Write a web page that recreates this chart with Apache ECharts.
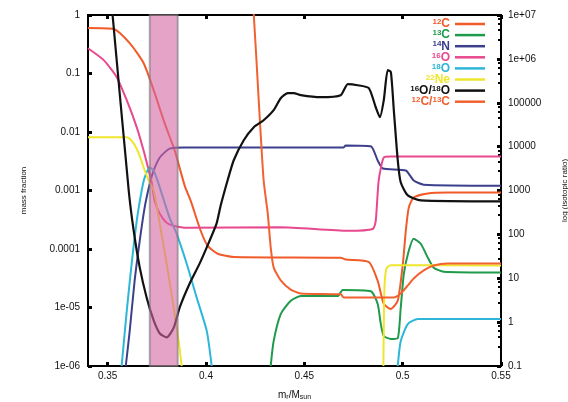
<!DOCTYPE html>
<html>
<head>
<meta charset="utf-8">
<script src="https://cdn.jsdelivr.net/npm/echarts@6/dist/echarts.min.js"></script>
<style>
  html, body { margin: 0; padding: 0; background: #fff; }
  #chart { width: 568px; height: 402px; }
</style>
</head>
<body>
<div id="chart"></div>
<script>
// x ticks + tick labels
const xTicks = [0.35, 0.4, 0.45, 0.5, 0.55];
const xTickLabels = ['0.35', '0.4', '0.45', '0.5', '0.55'];
const leftTickLabels = ['1e-06', '1e-05', '0.0001', '0.001', '0.01', '0.1', '1'];
const rightTickLabels = ['0.1', '1', '10', '100', '1000', '10000', '100000', '1e+06', '1e+07'];

// shaded zone (m/Msun)
const band = [0.3714, 0.3856];

// mass fractions [m/Msun, X]
const c12 = [[0.34, 0.60], [0.353, 0.575], [0.3612, 0.33], [0.3683, 0.15], [0.3734, 0.052], [0.379, 0.014],
  [0.3841, 0.0048], [0.3892, 0.0012], [0.3922, 6.7e-4], [0.3973, 2.05e-4], [0.4009, 1.13e-4], [0.406, 8.3e-5],
  [0.4141, 7.3e-5], [0.4685, 7.1e-5], [0.471, 6.6e-5], [0.4828, 6.0e-5], [0.4873, 2.85e-5], [0.4904, 1.15e-5],
  [0.4939, 9.4e-6], [0.4975, 1.3e-5], [0.5001, 5.6e-5], [0.5016, 2.05e-4], [0.5031, 5.1e-4], [0.5056, 7.6e-4],
  [0.5128, 8.9e-4], [0.5229, 9.2e-4], [0.55, 9.2e-4]];
const c13 = [[0.4329, 1e-6], [0.4344, 2.66e-6], [0.438, 7.7e-6], [0.4431, 1.3e-5], [0.4482, 1.57e-5], [0.467, 1.57e-5],
  [0.4695, 2.0e-5], [0.4838, 1.9e-5], [0.4873, 1.15e-5], [0.4889, 5.2e-6], [0.4904, 3.25e-6], [0.494, 2.9e-6],
  [0.4975, 3.0e-6], [0.499, 9.8e-6], [0.5006, 3.76e-5], [0.5031, 9.3e-5], [0.5056, 1.5e-4], [0.5092, 1.23e-4],
  [0.5128, 7.1e-5], [0.5158, 4.8e-5], [0.5209, 4.07e-5], [0.55, 3.95e-5]];
const n14 = [[0.3592, 1e-6], [0.3612, 3.95e-6], [0.3637, 2.85e-5], [0.3663, 1.38e-4], [0.3688, 5.1e-4], [0.3714, 1.3e-3],
  [0.3734, 2.2e-3], [0.3765, 3.67e-3], [0.3815, 5.2e-3], [0.3887, 5.45e-3], [0.47, 5.45e-3], [0.471, 5.9e-3],
  [0.4838, 5.7e-3], [0.4873, 3.26e-3], [0.4899, 2.38e-3], [0.5016, 2.2e-3], [0.5056, 1.48e-3], [0.5107, 1.26e-3],
  [0.55, 1.21e-3]];
const o16 = [[0.34, 0.27], [0.348, 0.169], [0.3546, 0.0865], [0.3597, 0.0349], [0.3648, 0.012], [0.3683, 4.8e-3],
  [0.3709, 2.2e-3], [0.3724, 1.37e-3], [0.3739, 6.7e-4], [0.3765, 4.0e-4], [0.38, 2.8e-4], [0.3836, 2.5e-4],
  [0.3902, 2.3e-4], [0.438, 2.35e-4], [0.4721, 2.05e-4], [0.4848, 2.2e-4], [0.4863, 3.0e-4], [0.4878, 1.48e-3],
  [0.4904, 3.67e-3], [0.494, 3.8e-3], [0.55, 3.8e-3]];
const o18 = [[0.3571, 1e-6], [0.3597, 8.7e-6], [0.3622, 5.6e-5], [0.3648, 3.05e-4], [0.3673, 1.0e-3], [0.3688, 1.66e-3],
  [0.3714, 2.47e-3], [0.3734, 2.2e-3], [0.3759, 1.3e-3], [0.3815, 3.4e-4], [0.3851, 1.82e-4], [0.3902, 5.6e-5],
  [0.3953, 1.46e-5], [0.4004, 3.95e-6], [0.4029, 1e-6], [0.45, '-'], [0.4975, 1e-6], [0.499, 2.66e-6],
  [0.5026, 5.2e-6], [0.5077, 6.35e-6], [0.55, 6.35e-6]];
const ne22 = [[0.34, 8.1e-3], [0.3597, 8.1e-3], [0.3632, 6.4e-3], [0.3658, 4.3e-3], [0.3683, 2.47e-3], [0.3709, 1.48e-3],
  [0.3734, 1.0e-3], [0.3765, 2.7e-4], [0.38, 5.6e-5], [0.3836, 9.8e-6], [0.3861, 2.66e-6], [0.3876, 1e-6],
  [0.44, '-'], [0.4902, 1e-6], [0.4907, 2.0e-5], [0.4917, 4.6e-5], [0.4939, 5.3e-5], [0.55, 5.2e-5]];

// isotopic ratios (right axis)
const r16o18o = [[0.3515, 3.7e7], [0.3525, 1e7], [0.3607, 1000], [0.3632, 124], [0.3663, 17.7], [0.3698, 3.65],
  [0.3734, 1.09], [0.3765, 0.55], [0.38, 0.45], [0.3836, 0.75], [0.3866, 2.15], [0.3917, 7.6], [0.3968, 21.8],
  [0.4019, 73], [0.4054, 178], [0.4075, 459], [0.411, 1710], [0.4141, 4890], [0.4192, 14000], [0.4243, 27700],
  [0.4293, 40000], [0.4344, 67800], [0.438, 127000], [0.4416, 166000], [0.4446, 166000], [0.4482, 149000],
  [0.4583, 134000], [0.4685, 149000], [0.4721, 266000], [0.4771, 251000], [0.4828, 215000], [0.4863, 79000],
  [0.4884, 46900], [0.4904, 115000], [0.4924, 555000], [0.494, 500000], [0.4955, 67800], [0.4975, 4890],
  [0.499, 1540], [0.5026, 776], [0.5092, 597], [0.55, 566]];
const r12c13c = [[0.4227, 4.8e7], [0.4243, 1e7], [0.4268, 115000], [0.4293, 1710], [0.4314, 301], [0.4329, 50.5],
  [0.4344, 17.7], [0.438, 8.9], [0.4431, 5.5], [0.4482, 4.5], [0.4685, 4.3], [0.47, 3.65], [0.4955, 3.65],
  [0.499, 4.5], [0.5026, 6.85], [0.5056, 9.9], [0.5107, 15.1], [0.5158, 19.6], [0.5229, 21.8], [0.55, 21.8]];

const names = ['12C', '13C', '14N', '16O', '18O', '22Ne', '16O/18O', '12C/13C'];
const labels = ['{s|12}{m|C}', '{s|13}{m|C}', '{s|14}{m|N}', '{s|16}{m|O}', '{s|18}{m|O}', '{s|22}{m|Ne}',
  '{s|16}{m|O/}{s|18}{m|O}', '{s|12}{m|C/}{s|13}{m|C}'];
const colors = ['#f15a29', '#1f9a4a', '#3b3f8c', '#e8488e', '#2eb6d9', '#efe52c', '#111111', '#f26130'];
const datasets = [c12, c13, n14, o16, o18, ne22, r16o18o, r12c13c];
const onRight = [0, 0, 0, 0, 0, 0, 1, 1];

const FONT = 'Liberation Sans';
const chart = echarts.init(document.getElementById('chart'));

const series = [];
names.forEach((n, i) => {
  series.push({
    name: n, type: 'line', yAxisIndex: onRight[i], data: datasets[i],
    symbol: 'none', smooth: 0.2, z: 3 + (i === 6 ? 1 : 0),
    lineStyle: { color: colors[i], width: i === 6 ? 2.2 : 2 },
    itemStyle: { color: colors[i] }
  });
});
// translucent band laid over the curves
series.push({
  name: 'band', type: 'line', data: [], z: 10,
  markArea: {
    silent: true, z: 10,
    itemStyle: { color: 'rgb(213,102,163)', opacity: 0.6, borderColor: '#777', borderWidth: 2 },
    data: [[{ xAxis: band[0] }, { xAxis: band[1] }]]
  }
});

const legends = names.map((n, i) => ({
  data: [n], right: 83, top: 18 + i * 11.1, align: 'right', orient: 'vertical',
  icon: 'rect', itemWidth: 30, itemHeight: 2.5, itemGap: 0, padding: 0, selectedMode: false,
  formatter: () => labels[i],
  textStyle: {
    color: colors[i], fontFamily: FONT,
    rich: {
      s: { fontSize: 8, fontWeight: 'bold', color: colors[i], verticalAlign: 'top', fontFamily: FONT },
      m: { fontSize: 12, fontWeight: 'bold', color: colors[i], fontFamily: FONT }
    }
  }
}));

const axisLabelStyle = { color: '#111', fontSize: 10, fontFamily: FONT };

chart.setOption({
  animation: false,
  grid: { left: 88, right: 67, top: 15, bottom: 36, show: true, borderColor: '#000', borderWidth: 2,
    containLabel: false, outerBoundsMode: 'none' },
  legend: legends,
  xAxis: [{
    type: 'value', min: 0.34, max: 0.55,
    name: '{n|m}{r|r}{n|/M}{r|sun}', nameLocation: 'middle', nameGap: 23,
    nameTextStyle: {
      rich: {
        n: { fontSize: 10, color: '#111', fontFamily: FONT },
        r: { fontSize: 7, color: '#111', fontFamily: FONT, verticalAlign: 'bottom', padding: [5, 0, 0, 0] }
      }
    },
    axisLine: { lineStyle: { color: '#000', width: 2 } },
    axisTick: { inside: true, length: 4, lineStyle: { width: 3, color: '#000' }, customValues: xTicks },
    axisLabel: { ...axisLabelStyle, margin: 5, customValues: xTicks,
      formatter: v => xTickLabels[xTicks.findIndex(t => Math.abs(t - v) < 1e-9)] },
    splitLine: { show: false }
  }, {
    type: 'value', min: 0.34, max: 0.55, position: 'top',
    axisLine: { lineStyle: { color: '#000', width: 2 } },
    axisTick: { inside: true, length: 4, lineStyle: { width: 3, color: '#000' }, customValues: xTicks },
    axisLabel: { show: false }, splitLine: { show: false }
  }],
  yAxis: [{
    type: 'log', logBase: 10, min: 1e-6, max: 1,
    name: 'mass fraction', nameLocation: 'middle', nameGap: 60,
    nameTextStyle: { fontSize: 8, color: '#111', fontFamily: FONT },
    axisLine: { show: true, lineStyle: { color: '#000', width: 2 } },
    axisTick: { inside: true, length: 4, lineStyle: { width: 3, color: '#000' } },
    axisLabel: { ...axisLabelStyle, margin: 8,
      formatter: v => leftTickLabels[Math.round(Math.log10(v)) + 6] },
    splitLine: { show: false }
  }, {
    type: 'log', logBase: 10, min: 0.1, max: 1e7,
    name: 'log (isotopic ratio)', nameLocation: 'middle', nameGap: 60, nameRotate: 90,
    nameTextStyle: { fontSize: 8, color: '#111', fontFamily: FONT },
    axisLine: { show: true, lineStyle: { color: '#000', width: 2 } },
    axisTick: { inside: true, length: 4, lineStyle: { width: 3, color: '#000' } },
    minorTick: { show: true, splitNumber: 5, length: 3, lineStyle: { width: 2, color: '#000' } },
    axisLabel: { ...axisLabelStyle, margin: 7,
      formatter: v => rightTickLabels[Math.round(Math.log10(v)) + 1] },
    splitLine: { show: false }
  }],
  series: series
});
</script>
</body>
</html>
